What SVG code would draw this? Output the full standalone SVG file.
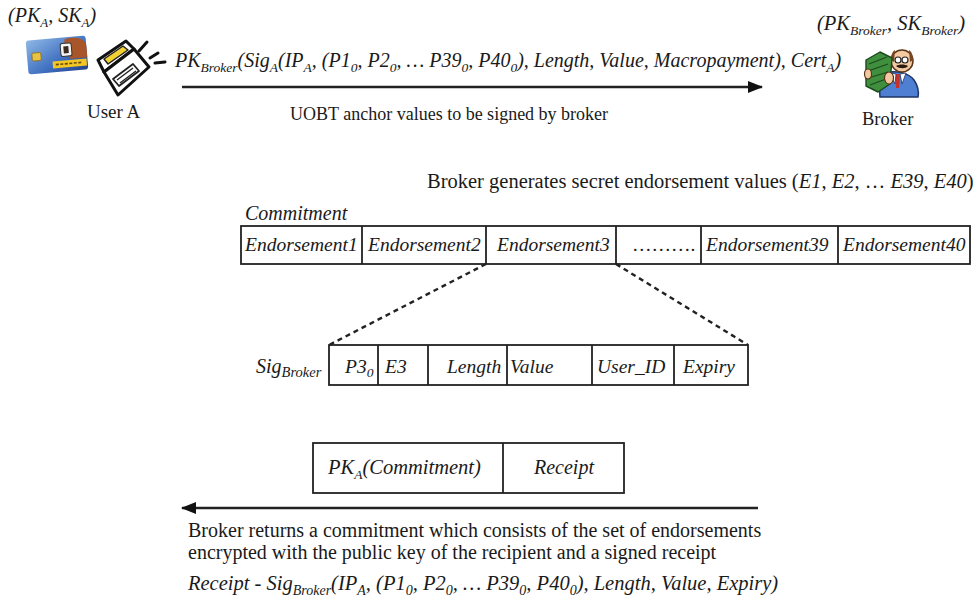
<svg xmlns="http://www.w3.org/2000/svg" width="975" height="612" viewBox="0 0 975 612">
  <style>
    .t { font-family: "Liberation Serif", "Times New Roman", serif; fill: #1a1a1a; }
    .i { font-style: italic; }
    .box { fill: #fff; stroke: #222; stroke-width: 1.8; }
    .div { stroke: #222; stroke-width: 1.8; }
    .conn { stroke: #222; stroke-width: 2.4; fill: none; }
    .dash { stroke: #222; stroke-width: 2.4; stroke-dasharray: 5 4; fill: none; }
    .ink { stroke: #111; stroke-width: 3; stroke-linejoin: round; stroke-linecap: round; }
  </style>
  <defs>
    <marker id="head" markerWidth="15" markerHeight="12" refX="14" refY="6" orient="auto" markerUnits="userSpaceOnUse" viewBox="0 0 15 12">
      <path d="M0,0 L15,6 L0,12 Z" fill="#111"/>
    </marker>
    <linearGradient id="cardBlue" x1="0" y1="0" x2="1" y2="1">
      <stop offset="0" stop-color="#8fb8e6"/>
      <stop offset="0.6" stop-color="#3f6fc0"/>
      <stop offset="1" stop-color="#24418a"/>
    </linearGradient>
  </defs>
  <rect width="975" height="612" fill="#fff"/>

  <!-- User A: key pair, smart card, laptop -->
  <g id="user-a">
    <text class="t i" x="8" y="22" font-size="20">(PK<tspan font-size="13" dy="5">A</tspan><tspan dy="-5">, SK</tspan><tspan font-size="13" dy="5">A</tspan><tspan dy="-5">)</tspan></text>
    <g transform="rotate(-5 57 55)">
      <rect x="27" y="38" width="60" height="34" rx="3" fill="url(#cardBlue)"/>
      <path d="M66,40 C76,38 86,40 87,48 L87,60 L70,60 C66,54 64,46 66,40 Z" fill="#a8552a"/>
      <rect x="61" y="44" width="11" height="13" rx="2" fill="#f4f4f4" stroke="#333" stroke-width="1"/>
      <rect x="64" y="47" width="5" height="7" fill="#3a2a20"/>
      <rect x="32" y="51" width="9" height="8" rx="1.5" fill="#e6c248" stroke="#8a6a10" stroke-width="0.8"/>
      <rect x="52" y="61" width="34" height="7" fill="#f2c623"/>
      <path d="M55,64.5 H82" stroke="#6a4a10" stroke-width="1.6" stroke-dasharray="3 1.5"/>
    </g>
    <path class="ink" d="M98,60 L126,41 L134,49 L104,72 Z" fill="#fff"/>
    <path d="M104,59 L123,46 L128,50 L108,64 Z" fill="#f2d233" stroke="#222" stroke-width="1.5" stroke-linejoin="round"/>
    <path class="ink" d="M104,72 L134,49 L149,67 L118,95 Z" fill="#fff"/>
    <path d="M113,79 L133,64 L139,71 L119,86 Z" fill="#fff" stroke="#222" stroke-width="1.8" stroke-linejoin="round"/>
    <path d="M117,80 L133,68 M120,83 L136,71" stroke="#222" stroke-width="1.4"/>
    <path class="ink" d="M139,51 L147,42 M150,58 L158,53 M155,63 L165,62" fill="none"/>
    <text class="t" x="87" y="118" font-size="19">User A</text>
  </g>

  <!-- Broker: key pair and figure holding bank notes -->
  <g id="broker">
    <text class="t i" x="817" y="30" font-size="20.5">(PK<tspan font-size="13.5" dy="5">Broker</tspan><tspan dy="-5">, SK</tspan><tspan font-size="13.5" dy="5">Broker</tspan><tspan dy="-5">)</tspan></text>
    <path d="M884,73 C895,70 908,72 914,80 C918,86 919,92 918,97 L880,97 C879,88 880,79 884,73 Z" fill="#4f7fd2" stroke="#1e3468" stroke-width="1.5"/>
    <path d="M896,74 L900,74 L899,88 L896,88 Z" fill="#c8302a"/>
    <path d="M890,73 L896,74 L895,84 Z M900,74 L906,73 L902,84 Z" fill="#fff" stroke="#1e3468" stroke-width="0.8"/>
    <circle cx="902" cy="61" r="11" fill="#f2c9a0" stroke="#5a3418" stroke-width="1.5"/>
    <path d="M891,60 C891,54 893,51 895,50 L894,62 Z M913,60 C913,54 911,51 909,50 L910,62 Z" fill="#7a4420"/>
    <circle cx="898" cy="60" r="3" fill="#fff" stroke="#222" stroke-width="1.2"/>
    <circle cx="905" cy="60" r="3" fill="#fff" stroke="#222" stroke-width="1.2"/>
    <path d="M896,66 C899,64 905,64 908,66 C906,69 899,69 896,66 Z" fill="#2a1a10"/>
    <path d="M866,60 L880,52 L892,58 L890,84 L878,92 L866,86 Z" fill="#3f8f3f" stroke="#1c4a1c" stroke-width="1.4" stroke-linejoin="round"/>
    <path d="M869,64 L887,57 M868,71 L888,64 M868,78 L888,72 M870,85 L886,79" stroke="#1c4a1c" stroke-width="1.2"/>
    <ellipse cx="889" cy="78" rx="4.5" ry="6" fill="#f2c9a0" stroke="#5a3418" stroke-width="1.2"/>
    <ellipse cx="868" cy="74" rx="3.5" ry="5" fill="#f2c9a0" stroke="#5a3418" stroke-width="1.2"/>
    <text class="t" x="862" y="125" font-size="18.5">Broker</text>
  </g>

  <!-- Commitment: forty endorsement values -->
  <g id="commitment">
    <text class="t" x="427" y="188" font-size="20.5">Broker generates secret endorsement values (<tspan class="i">E1</tspan>, <tspan class="i">E2</tspan>, … <tspan class="i">E39</tspan>, <tspan class="i">E40</tspan>)</text>
    <text class="t i" x="245" y="220" font-size="20">Commitment</text>
    <rect class="box" x="241" y="226" width="729" height="38"/>
    <path class="div" d="M362,226 V264 M486,226 V264 M616,226 V264 M701,226 V264 M838,226 V264"/>
    <g class="t i" font-size="19.5">
      <text x="245" y="251">Endorsement1</text>
      <text x="368" y="251">Endorsement2</text>
      <text x="497" y="251">Endorsement3</text>
      <text x="632" y="251" font-style="normal">……….</text>
      <text x="706" y="251">Endorsement39</text>
      <text x="843" y="251">Endorsement40</text>
    </g>
  </g>

  <!-- Signed endorsement record -->
  <g id="endorsement">
    <text class="t i" x="256" y="373" font-size="20">Sig<tspan font-size="14.5" dy="4">Broker</tspan></text>
    <rect class="box" x="329" y="345" width="419" height="40"/>
    <path class="div" d="M378,345 V385 M428,345 V385 M507,345 V385 M592,345 V385 M674,345 V385"/>
    <g class="t i" font-size="19.5">
      <text x="345" y="373">P3<tspan font-size="13.5" dy="4">0</tspan></text>
      <text x="385" y="373">E3</text>
      <text x="447" y="373">Length</text>
      <text x="510" y="373">Value</text>
      <text x="597" y="373">User_ID</text>
      <text x="683" y="373">Expiry</text>
    </g>
  </g>

  <!-- Message returned to User A -->
  <g id="reply">
    <rect class="box" x="313" y="443" width="311" height="50"/>
    <path class="div" d="M503,443 V493"/>
    <text class="t i" x="328" y="474" font-size="20.5">PK<tspan font-size="13.5" dy="5">A</tspan><tspan dy="-5">(Commitment)</tspan></text>
    <text class="t i" x="534" y="474" font-size="20">Receipt</text>
  </g>

  <!-- Connectors -->
  <g id="connectors">
    <line class="conn" x1="182" y1="87" x2="762" y2="87" marker-end="url(#head)"/>
    <line class="conn" x1="758" y1="508" x2="182" y2="508" marker-end="url(#head)"/>
    <line class="dash" x1="486" y1="264" x2="329" y2="345"/>
    <line class="dash" x1="616" y1="264" x2="748" y2="345"/>
  </g>

  <!-- Labels on the message flows -->
  <g id="labels">
    <text class="t i" x="175" y="67" font-size="20">PK<tspan font-size="13.5" dy="5">Broker</tspan><tspan dy="-5">(Sig</tspan><tspan font-size="13.5" dy="5">A</tspan><tspan dy="-5">(IP</tspan><tspan font-size="13.5" dy="5">A</tspan><tspan dy="-5">, (P1</tspan><tspan font-size="13.5" dy="5">0</tspan><tspan dy="-5">, P2</tspan><tspan font-size="13.5" dy="5">0</tspan><tspan dy="-5">, … P39</tspan><tspan font-size="13.5" dy="5">0</tspan><tspan dy="-5">, P40</tspan><tspan font-size="13.5" dy="5">0</tspan><tspan dy="-5">), Length, Value, Macropayment), Cert</tspan><tspan font-size="13.5" dy="5">A</tspan><tspan dy="-5">)</tspan></text>
    <text class="t" x="290" y="120" font-size="18">UOBT anchor values to be signed by broker</text>
    <text class="t" x="188" y="537" font-size="20">Broker returns a commitment which consists of the set of endorsements</text>
    <text class="t" x="188" y="559" font-size="20">encrypted with the public key of the recipient and a signed receipt</text>
    <text class="t i" x="188" y="590" font-size="20.5">Receipt - Sig<tspan font-size="14" dy="5">Broker</tspan><tspan dy="-5">(IP</tspan><tspan font-size="14" dy="5">A</tspan><tspan dy="-5">, (P1</tspan><tspan font-size="14" dy="5">0</tspan><tspan dy="-5">, P2</tspan><tspan font-size="14" dy="5">0</tspan><tspan dy="-5">, … P39</tspan><tspan font-size="14" dy="5">0</tspan><tspan dy="-5">, P40</tspan><tspan font-size="14" dy="5">0</tspan><tspan dy="-5">), Length, Value, Expiry)</tspan></text>
  </g>
</svg>
